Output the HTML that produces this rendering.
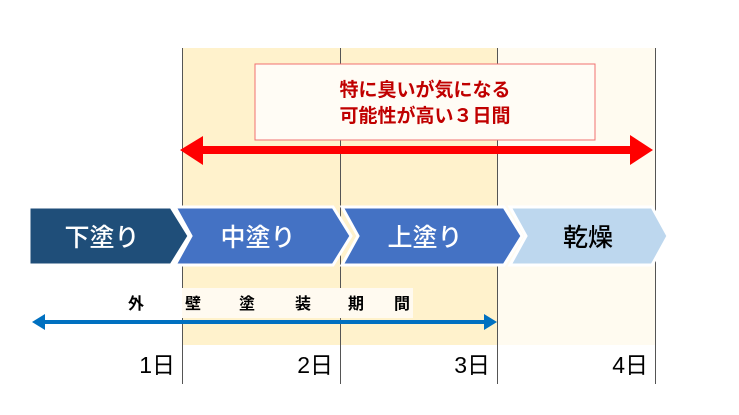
<!DOCTYPE html>
<html><head><meta charset="utf-8"><style>
body{margin:0;width:739px;height:415px;background:#fff;overflow:hidden;font-family:"Liberation Sans","Noto Sans CJK JP",sans-serif}
</style></head><body>
<svg width="739" height="415" xmlns="http://www.w3.org/2000/svg" style="position:absolute;left:0;top:0">
<rect x="182" y="48" width="315" height="297" fill="#fff2cc"/>
<rect x="497" y="48" width="158" height="297" fill="#fffbf0"/>
<g stroke="#555" stroke-width="1">
<line x1="182.5" y1="48" x2="182.5" y2="384"/><line x1="340.5" y1="48" x2="340.5" y2="384"/>
<line x1="497.5" y1="48" x2="497.5" y2="384"/><line x1="655.5" y1="48" x2="655.5" y2="384"/>
</g>
<rect x="255" y="64" width="340" height="76" fill="#fffcf5" stroke="#f07070" stroke-width="1"/>
<g font-family="'Liberation Sans','Noto Sans CJK JP',sans-serif" font-weight="bold" font-size="19" fill="#c00000" text-anchor="middle">
<text x="425" y="96">特に臭いが気になる</text>
<text x="425" y="122">可能性が高い３日間</text>
</g>
<path d="M180,150 L203,136 L203,146 L630,146 L630,135 L653,150 L630,165 L630,154 L203,154 L203,165 Z" fill="#ff0000"/>
<g stroke="#fff" stroke-width="3" stroke-linejoin="miter">
<path d="M510,207 L652,207 L668,236 L652,265 L510,265 L526,236 Z" fill="#bdd7ee"/>
<path d="M342,207 L504,207 L522,236 L504,265 L342,265 L358,236 Z" fill="#4472c4"/>
<path d="M175,207 L333,207 L351,236 L333,265 L175,265 L191,236 Z" fill="#4472c4"/>
<path d="M29,207 L171,207 L189,236 L171,265 L29,265 Z" fill="#1f4e79"/>
</g>
<g font-family="'Liberation Sans','Noto Sans CJK JP',sans-serif" font-size="25" font-weight="500" text-anchor="middle">
<text x="102" y="246" fill="#fff">下塗り</text>
<text x="258" y="246" fill="#fff">中塗り</text>
<text x="425" y="246" fill="#fff">上塗り</text>
<text x="588" y="246" fill="#000">乾燥</text>
</g>
<rect x="182" y="288" width="231" height="30" fill="#fffaf0"/>
<g font-family="'Liberation Sans','Noto Sans CJK JP',sans-serif" font-weight="bold" font-size="16" fill="#000" text-anchor="middle">
<text x="136" y="309">外</text><text x="193" y="309">壁</text><text x="247" y="309">塗</text>
<text x="303" y="309">装</text><text x="356" y="309">期</text><text x="402" y="309">間</text>
</g>
<path d="M32,322 L45,314 L45,320 L484,320 L484,314 L497,322 L484,330 L484,324 L45,324 L45,330 Z" fill="#0070c0"/>
<g font-family="'Liberation Sans','Noto Sans CJK JP',sans-serif" font-size="23" fill="#000" text-anchor="end">
<text x="175" y="373">1日</text><text x="333" y="373">2日</text>
<text x="490" y="373">3日</text><text x="648" y="373">4日</text>
</g>
</svg>
</body></html>
